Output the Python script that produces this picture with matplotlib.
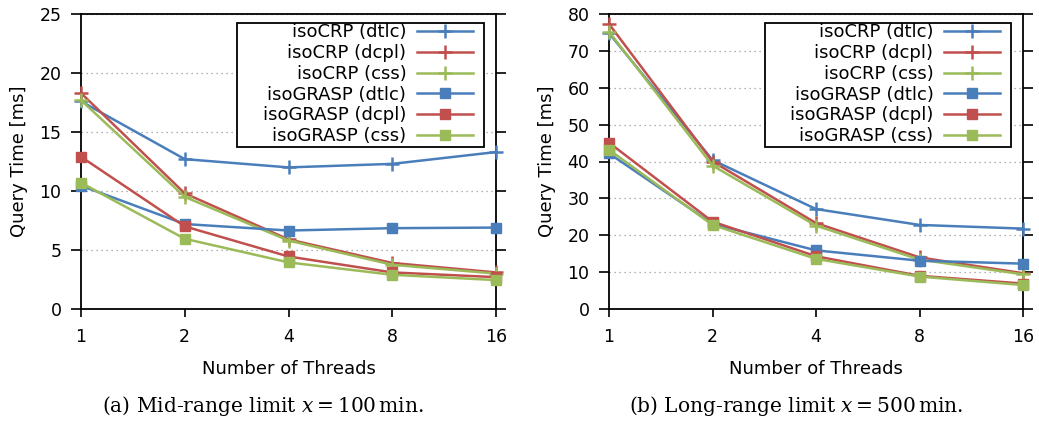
import matplotlib
matplotlib.use('Agg')
import matplotlib.pyplot as plt
from matplotlib.patches import Rectangle

threads = ['1', '2', '4', '8', '16']
series_names = ['isoCRP (dtlc)', 'isoCRP (dcpl)', 'isoCRP (css)',
                'isoGRASP (dtlc)', 'isoGRASP (dcpl)', 'isoGRASP (css)']

# (a) mid-range, x = 100 min
mid_crp_dtlc = [17.6, 12.7, 12.0, 12.3, 13.3]
mid_crp_dcpl = [18.3, 9.8, 5.9, 3.9, 3.1]
mid_crp_css = [17.7, 9.5, 5.8, 3.75, 3.0]
mid_grasp_dtlc = [10.45, 7.2, 6.65, 6.85, 6.9]
mid_grasp_dcpl = [12.9, 7.0, 4.45, 3.1, 2.7]
mid_grasp_css = [10.7, 5.95, 3.95, 2.9, 2.45]

# (b) long-range, x = 500 min
long_crp_dtlc = [74.8, 40.4, 27.1, 22.8, 21.8]
long_crp_dcpl = [77.3, 40.0, 23.3, 14.0, 9.7]
long_crp_css = [75.2, 38.9, 22.6, 13.4, 9.4]
long_grasp_dtlc = [42.2, 23.1, 15.9, 13.1, 12.3]
long_grasp_dcpl = [45.1, 23.7, 14.3, 9.0, 6.9]
long_grasp_css = [43.2, 22.8, 13.6, 8.8, 6.5]

blue = '#4a7ebb'
red = '#c0504d'
green = '#9bbb59'
colors = [blue, red, green, blue, red, green]
markers = ['+', '+', '+', 's', 's', 's']

panels = [
    dict(data=[mid_crp_dtlc, mid_crp_dcpl, mid_crp_css,
               mid_grasp_dtlc, mid_grasp_dcpl, mid_grasp_css],
         ymax=25, ystep=5, pos=[81 / 1039, 112 / 421, 415 / 1039, 295 / 421],
         caption='(a) Mid-range limit $x = 100\\,$min.', cap_x=263 / 1039),
    dict(data=[long_crp_dtlc, long_crp_dcpl, long_crp_css,
               long_grasp_dtlc, long_grasp_dcpl, long_grasp_css],
         ymax=80, ystep=10, pos=[609 / 1039, 112 / 421, 414 / 1039, 295 / 421],
         caption='(b) Long-range limit $x = 500\\,$min.', cap_x=796 / 1039),
]

plt.rcParams['font.family'] = 'DejaVu Sans'
plt.rcParams['mathtext.fontset'] = 'dejavuserif'

fig = plt.figure(figsize=(10.39, 4.21), dpi=100)
xs = list(range(len(threads)))

for p in panels:
    ax = fig.add_axes(p['pos'])
    for name, vals, c, m in zip(series_names, p['data'], colors, markers):
        if m == '+':
            ax.plot(xs, vals, color=c, lw=1.8, marker='+', ms=10, mew=1.8,
                    label=name, clip_on=False, zorder=3)
        else:
            ax.plot(xs, vals, color=c, lw=1.8, marker='s', ms=7.5,
                    label=name, clip_on=False, zorder=3)
    ax.set_xlim(0, len(threads) - 1)
    ax.set_ylim(0, p['ymax'])
    ax.set_xticks(xs)
    ax.set_xticklabels(threads)
    ax.set_yticks(range(0, p['ymax'] + 1, p['ystep']))
    ax.yaxis.grid(True, linestyle=(0, (1, 3)), color='#999999', lw=0.9)
    ax.set_axisbelow(True)
    ax.tick_params(axis='y', direction='out', length=7, width=1.2,
                   left=True, right=True, labelsize=12.5, pad=7)
    ax.tick_params(axis='x', direction='out', length=6, width=1.2,
                   top=False, labelsize=12.5, pad=8)
    for s in ax.spines.values():
        s.set_linewidth(1.3)
    ax.set_xlabel('Number of Threads', fontsize=13, labelpad=10)
    ax.set_ylabel('Query Time [ms]', fontsize=13, labelpad=8)

    # gnuplot-style key: frame drawn separately, entries right-aligned
    ax.add_patch(Rectangle((0.376, 0.549), 0.595, 0.42, transform=ax.transAxes,
                           fill=True, facecolor='white', edgecolor='black',
                           lw=1.3, zorder=4, clip_on=False))
    leg = ax.legend(loc='upper right', bbox_to_anchor=(0.945, 0.968),
                    markerfirst=False, fontsize=13, frameon=False,
                    handlelength=3.1, handletextpad=0.6, labelspacing=0.15,
                    borderpad=0, borderaxespad=0)
    leg.set_zorder(5)
    fig.text(p['cap_x'], 15 / 421, p['caption'], ha='center', va='center',
             fontsize=14.5, family='DejaVu Serif')

fig.savefig('out.png', dpi=100)
